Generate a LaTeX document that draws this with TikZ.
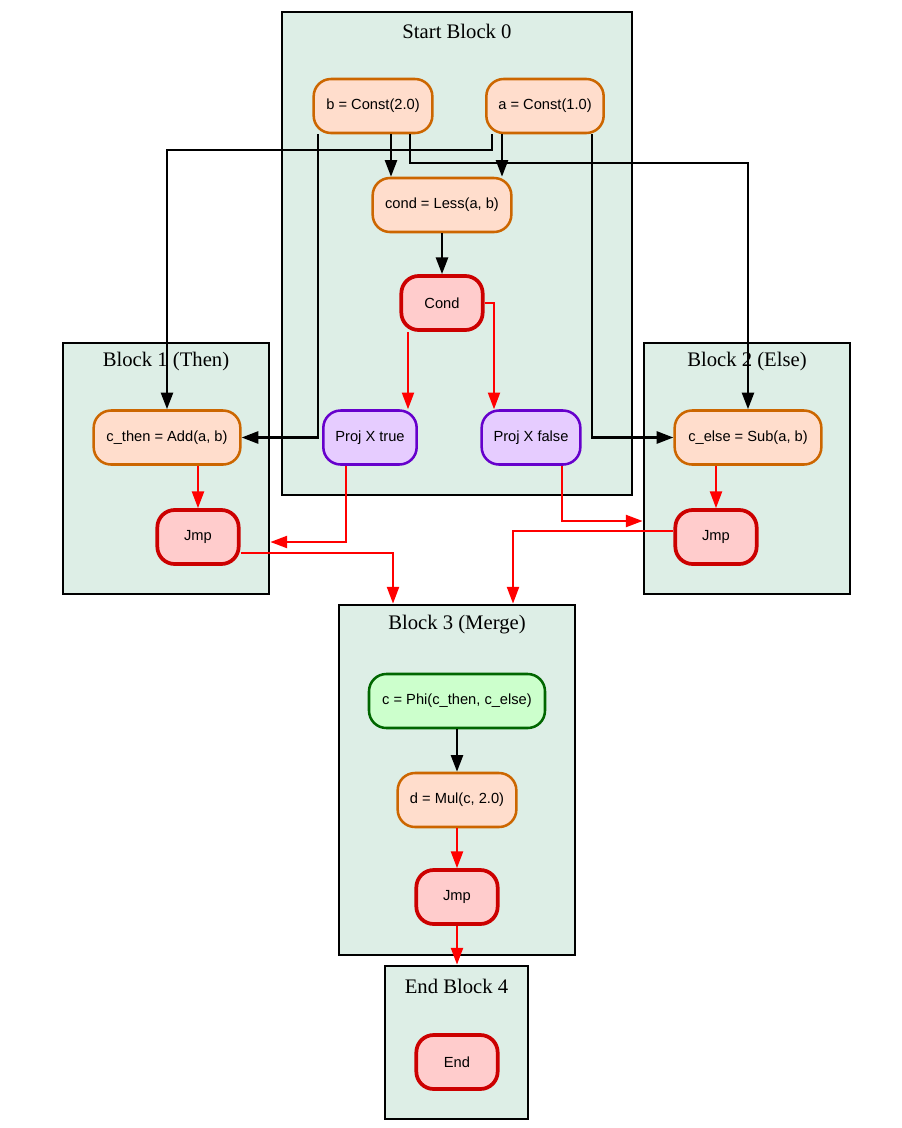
\documentclass[tikz,border=0pt]{standalone}
\usepackage{fontspec}
\setmainfont{Liberation Serif}
\setsansfont{Liberation Sans}
\usetikzlibrary{arrows.meta}

\definecolor{clfill}{RGB}{221,238,230}
\definecolor{opfill}{RGB}{255,221,204}
\definecolor{opline}{RGB}{204,102,0}
\definecolor{ctfill}{RGB}{255,204,204}
\definecolor{ctline}{RGB}{204,0,0}
\definecolor{pjfill}{RGB}{230,204,255}
\definecolor{pjline}{RGB}{102,0,204}
\definecolor{phfill}{RGB}{204,255,204}
\definecolor{phline}{RGB}{0,102,0}

\begin{document}
\begin{tikzpicture}[x=0.75pt,y=-0.75pt,>={Triangle[length=12.5pt,width=9pt]},
  cluster/.style={draw=black,line width=2.1pt,fill=clfill,inner sep=0pt},
  cltitle/.style={font=\fontsize{15.5pt}{18pt}\selectfont},
  opnode/.style={draw=opline,fill=opfill,line width=1.9pt,rounded corners=13pt,
    minimum height=40.5pt,font=\sffamily\fontsize{11pt}{13pt}\selectfont},
  ctnode/.style={opnode,draw=ctline,fill=ctfill,line width=2.8pt,minimum width=61pt},
  pjnode/.style={opnode,draw=pjline,fill=pjfill},
  phnode/.style={opnode,draw=phline,fill=phfill},
  dat/.style={->,line width=1.9pt,black},
  ctl/.style={->,line width=1.5pt,red}]
  \useasboundingbox (0,0) rectangle (902,1128);
  % bloques
  \node[cluster,minimum width=262.5pt,minimum height=362.25pt] (blk0) at (457,253.5) {};
  \node[cluster,minimum width=154.5pt,minimum height=188.25pt] (blk1) at (166,468.5) {};
  \node[cluster,minimum width=154.5pt,minimum height=188.25pt] (blk2) at (747,468.5) {};
  \node[cluster,minimum width=177pt,minimum height=262.5pt] (blk3) at (457,780) {};
  \node[cluster,minimum width=107.25pt,minimum height=114.75pt] (blk4) at (456.5,1042.5) {};
  \node[cltitle] (t0) at (457,31) {Start Block 0};
  \node[cltitle] (t1) at (166,362) {Block 1 (Then)};
  \node[cltitle] (t2) at (747,362) {Block 2 (Else)};
  \node[cltitle] (t3) at (457,625) {Block 3 (Merge)};
  \node[cltitle] (t4) at (456.5,986) {End Block 4};
  % nodos
  \node[opnode,minimum width=89pt] (b) at (373,106) {b = Const(2.0)};
  \node[opnode,minimum width=88pt] (a) at (545,106) {a = Const(1.0)};
  \node[opnode,minimum width=104pt] (cond) at (442,205) {cond = Less(a, b)};
  \node[ctnode] (cnd) at (442,303) {Cond};
  \node[pjnode,minimum width=70pt] (pxt) at (370,437.5) {Proj X true};
  \node[pjnode,minimum width=74pt] (pxf) at (531,437.5) {Proj X false};
  \node[opnode,minimum width=110pt] (cthen) at (167,437.5) {c\_then = Add(a, b)};
  \node[opnode,minimum width=110pt] (celse) at (748,437.5) {c\_else = Sub(a, b)};
  \node[ctnode] (jmp1) at (198,537) {Jmp};
  \node[ctnode] (jmp2) at (716,537) {Jmp};
  \node[phnode,minimum width=132pt] (phi) at (457,701) {c = Phi(c\_then, c\_else)};
  \node[opnode,minimum width=89pt] (mul) at (457,800) {d = Mul(c, 2.0)};
  \node[ctnode] (jmp3) at (457,897) {Jmp};
  \node[ctnode] (fin) at (457,1062) {End};
  % flujo de datos
  \draw[dat] (b.south -| 391,0) -- (cond.north -| 391,0);
  \draw[dat] (a.south -| 502,0) -- (cond.north -| 502,0);
  \draw[dat] (a.south -| 492,0) |- (cthen.north |- 0,150) -- (cthen.north);
  \draw[dat] (b.south -| 410,0) |- (celse.north |- 0,163) -- (celse.north);
  \draw[dat] (b.south -| 318,0) |- (cthen.east);
  \draw[dat] (a.south -| 592,0) |- (celse.west);
  \draw[dat] (cond) -- (cnd);
  \draw[dat] (phi) -- (mul);
  % flujo de control
  \draw[ctl] (cnd.south -| 408,0) -- (pxt.north -| 408,0);
  \draw[ctl] (cnd.east) -| (pxf.north -| 494,0);
  \draw[ctl] (cthen.south -| jmp1) -- (jmp1);
  \draw[ctl] (celse.south -| jmp2) -- (jmp2);
  \draw[ctl] (pxt.south -| 346,0) |- (blk1.east |- 0,542);
  \draw[ctl] (pxf.south -| 562,0) |- (blk2.west |- 0,521);
  \draw[ctl] (jmp1.east |- 0,553) -| (blk3.north -| 393,0);
  \draw[ctl] (jmp2.west |- 0,531) -| (blk3.north -| 513,0);
  \draw[ctl] (mul) -- (jmp3);
  \draw[ctl] (jmp3) -- (jmp3 |- blk4.north);
\end{tikzpicture}
\end{document}
